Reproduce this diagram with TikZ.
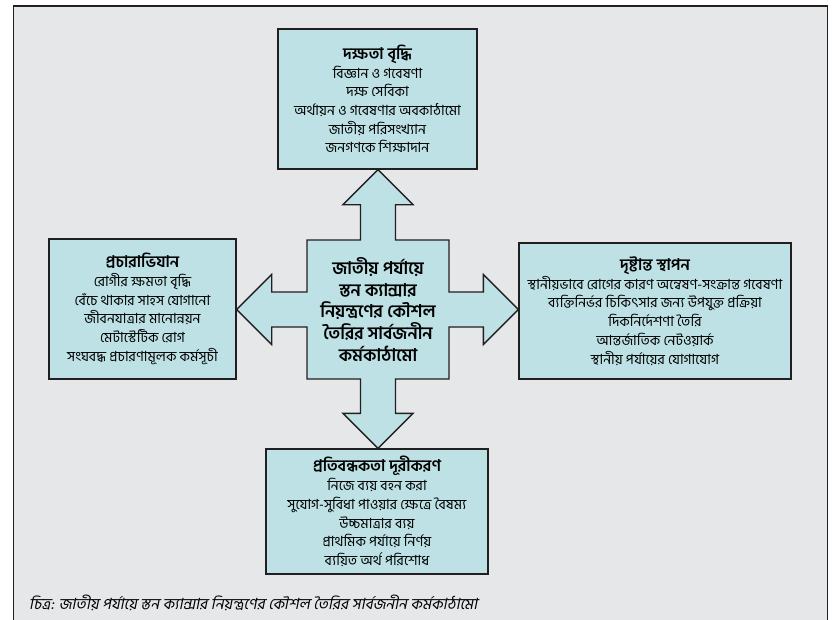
\documentclass[tikz,border=0pt]{standalone}
\usepackage{fontspec}
\usetikzlibrary{positioning}
\usetikzlibrary{calc}
\usetikzlibrary{backgrounds}
\newfontfamily\bangla[Script=Bengali]{Hind Siliguri}
\newfontfamily\banglaSlant[Script=Bengali,FakeSlant=0.2]{Hind Siliguri}
\definecolor{pCyan}{HTML}{BDE1E5}
\definecolor{pGray}{HTML}{E6E7E9}
\definecolor{pInk}{HTML}{231F20}
\newcommand{\boxhead}[1]{{\bfseries\fontsize{16}{18.7}\selectfont #1}}
\tikzset{
  box/.style={draw=pInk, line width=1.3pt, fill=pCyan, align=center, inner sep=0pt,
    font=\bangla\fontsize{14}{18.7}\selectfont},
  cross/.style={draw=pInk, line width=1.3pt, fill=pCyan},
}

\begin{document}
\begin{tikzpicture}[x=1pt, y=-1pt]
    \useasboundingbox (0,0) rectangle (837,619);

    \node[box, minimum width=199, minimum height=140] (skill) at (377.5,99)
      {\boxhead{দক্ষতা বৃদ্ধি}\\বিজ্ঞান ও গবেষণা\\দক্ষ সেবিকা\\অর্থায়ন ও গবেষণার অবকাঠামো\\জাতীয় পরিসংখ্যান\\জনগণকে শিক্ষাদান};
    \node[box, minimum width=187, minimum height=140] (campaign) at (142.5,309)
      {\boxhead{প্রচারাভিযান}\\রোগীর ক্ষমতা বৃদ্ধি\\বেঁচে থাকার সাহস যোগানো\\জীবনযাত্রার মানোন্নয়ন\\মেটাস্টেটিক রোগ\\সংঘবদ্ধ প্রচারণামূলক কর্মসূচী};
    \node[box, minimum width=272, minimum height=136] (model) at (655,311)
      {\boxhead{দৃষ্টান্ত স্থাপন}\\স্থানীয়ভাবে রোগের কারণ অন্বেষণ-সংক্রান্ত গবেষণা\\ব্যক্তিনির্ভর চিকিৎসার জন্য উপযুক্ত প্রক্রিয়া\\দিকনির্দেশণা তৈরি\\আন্তর্জাতিক নেটওয়ার্ক\\স্থানীয় পর্যায়ের যোগাযোগ};
    \node[box, minimum width=222, minimum height=125] (barrier) at (377,511.5)
      {\boxhead{প্রতিবন্ধকতা দূরীকরণ}\\নিজে ব্যয় বহন করা\\সুযোগ-সুবিধা পাওয়ার ক্ষেত্রে বৈষম্য\\উচ্চমাত্রার ব্যয়\\প্রাথমিক পর্যায়ে নির্ণয়\\ব্যয়িত অর্থ পরিশোধ};

    \node[align=center, inner sep=0pt, outer sep=0pt, minimum width=142, minimum height=139,
      font=\bangla\bfseries\fontsize{17.5}{21.7}\selectfont] (core) at (378,309.5)
      {জাতীয় পর্যায়ে\\স্তন ক্যান্সার\\নিয়ন্ত্রণের কৌশল\\তৈরির সার্বজনীন\\কর্মকাঠামো};

    \coordinate (upTip) at (core |- skill.south);
    \coordinate (downTip) at (core |- barrier.north);
    \coordinate (leftTip) at (core -| campaign.east);
    \coordinate (rightTip) at (core -| model.west);

    \begin{scope}[on background layer]
      \draw[pInk, line width=1.6pt, fill=pGray] (13.5,6) rectangle (827.5,630);
      \draw[cross] (core.north west) -- ($(core.north)+(-17.5,0)$) -- ($(upTip)+(-17.5,35)$)
        -- ($(upTip)+(-35,35)$) -- (upTip) -- ($(upTip)+(35,35)$) -- ($(upTip)+(17.5,35)$)
        -- ($(core.north)+(17.5,0)$) -- (core.north east) -- ($(core.east)+(0,-17.5)$)
        -- ($(rightTip)+(-35,-17.5)$) -- ($(rightTip)+(-35,-35)$) -- (rightTip)
        -- ($(rightTip)+(-35,35)$) -- ($(rightTip)+(-35,17.5)$) -- ($(core.east)+(0,17.5)$)
        -- (core.south east) -- ($(core.south)+(17.5,0)$) -- ($(downTip)+(17.5,-35)$)
        -- ($(downTip)+(35,-35)$) -- (downTip) -- ($(downTip)+(-35,-35)$) -- ($(downTip)+(-17.5,-35)$)
        -- ($(core.south)+(-17.5,0)$) -- (core.south west) -- ($(core.west)+(0,17.5)$)
        -- ($(leftTip)+(35,17.5)$) -- ($(leftTip)+(35,35)$) -- (leftTip)
        -- ($(leftTip)+(35,-35)$) -- ($(leftTip)+(35,-17.5)$) -- ($(core.west)+(0,-17.5)$) -- cycle;
    \end{scope}

    \node[anchor=west, inner sep=0pt, font=\banglaSlant\fontsize{15.4}{18}\selectfont] (caption) at (29,603)
      {চিত্র: জাতীয় পর্যায়ে স্তন ক্যান্সার নিয়ন্ত্রণের কৌশল তৈরির সার্বজনীন কর্মকাঠামো};

  \end{tikzpicture}
\end{document}
